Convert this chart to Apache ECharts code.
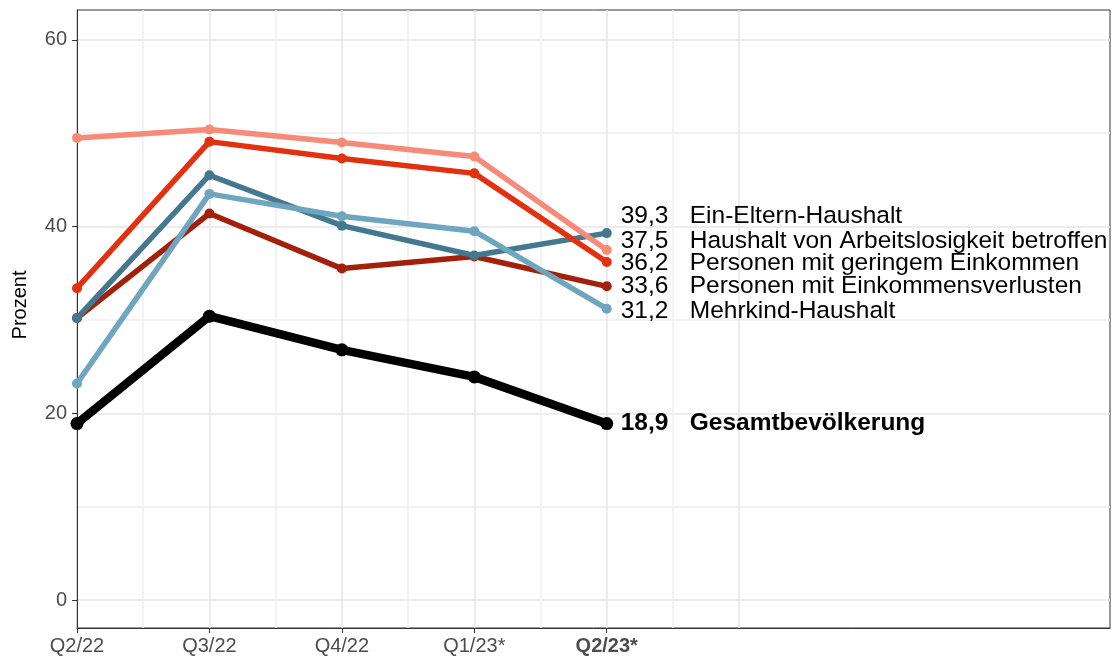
<!DOCTYPE html>
<html>
<head>
<meta charset="utf-8">
<script src="https://cdn.jsdelivr.net/npm/echarts@6/dist/echarts.min.js"></script>
</head>
<body style="margin:0;background:#fff;">
<div id="chart" style="width:1113px;height:657px;"></div>
<script>
var quarters = ["Q2/22", "Q3/22", "Q4/22", "Q1/23*", "Q2/23*"];
var einEltern = [30.2, 45.5, 40.1, 36.9, 39.3];
var arbeitslos = [49.5, 50.4, 49.0, 47.5, 37.5];
var geringEink = [33.4, 49.1, 47.3, 45.7, 36.2];
var einkVerlust = [30.2, 41.4, 35.5, 36.8, 33.6];
var mehrkind = [23.2, 43.5, 41.1, 39.5, 31.2];
var gesamt = [18.9, 30.4, 26.8, 23.9, 18.9];
var yTicks = [0, 20, 40, 60];
var xTicks = [0, 1, 2, 3, 4];

var font = "'Liberation Sans', Arial, sans-serif";

// drawing order: last one on top
var groups = [
  { name: "Personen mit Einkommensverlusten", data: einkVerlust, color: "#a3200b", dy: 0 },
  { name: "Ein-Eltern-Haushalt", data: einEltern, color: "#44788f", dy: -17 },
  { name: "Haushalt von Arbeitslosigkeit betroffen", data: arbeitslos, color: "#f58b78", dy: -9 },
  { name: "Personen mit geringem Einkommen", data: geringEink, color: "#e3300e", dy: 1 },
  { name: "Mehrkind-Haushalt", data: mehrkind, color: "#6fa6bf", dy: 3 },
  { name: "Gesamtbevölkerung", data: gesamt, color: "#000000", dy: 0, bold: true }
];

function fmt(v) {
  return v.toFixed(1).replace(".", ",");
}

var series = groups.map(function (g) {
  return {
    name: g.name,
    type: "line",
    xAxisIndex: 1,
    yAxisIndex: 1,
    data: g.data.map(function (v, i) { return [i, v]; }),
    symbol: "circle",
    symbolSize: g.bold ? 13 : 10,
    lineStyle: { color: g.color, width: g.bold ? 8.5 : 5.5 },
    itemStyle: { color: g.color },
    emphasis: { disabled: true },
    endLabel: {
      show: true,
      distance: 14,
      offset: [0, g.dy],
      formatter: function (p) {
        return "{v|" + fmt(p.value[1]) + "}{n|" + g.name + "}";
      },
      rich: {
        v: { width: 69, fontSize: 24.5, fontFamily: font, color: "#000", fontWeight: g.bold ? "bold" : "normal" },
        n: { fontSize: 24.5, fontFamily: font, color: "#000", fontWeight: g.bold ? "bold" : "normal" }
      }
    }
  };
});

var major = "#e6e6e6";
var minor = "#efefef";

// vertical grid: major on whole quarters, minor between, nothing past x = 5
var vGrid = [];
for (var k = 0; k < 17; k++) {
  if (k > 10) vGrid.push("rgba(0,0,0,0)");
  else vGrid.push(k % 2 === 0 ? major : minor);
}
// horizontal grid: edge, 0, 10, 20 ... 60, edge
var hGrid = ["rgba(0,0,0,0)", major, minor, major, minor, major, minor, major, "rgba(0,0,0,0)"];

var chart = echarts.init(document.getElementById("chart"));
chart.setOption({
  animation: false,
  grid: {
    left: 77,
    right: 3,
    top: 10,
    bottom: 29,
    show: true,
    borderColor: "#333",
    borderWidth: 1
  },
  xAxis: [
    {
      // grid lines only
      type: "value",
      position: "bottom",
      min: 0,
      max: 7.8,
      interval: 0.5,
      axisLine: { show: false },
      axisTick: { show: false },
      axisLabel: { show: false },
      splitLine: { show: true, lineStyle: { color: vGrid, width: 1.5 } }
    },
    {
      type: "value",
      position: "bottom",
      min: 0,
      max: 7.8,
      axisLine: { onZero: false, lineStyle: { color: "#333" } },
      axisTick: {
        customValues: xTicks,
        length: 5,
        lineStyle: { color: "#333" }
      },
      axisLabel: {
        customValues: xTicks,
        margin: 8,
        fontSize: 20,
        fontFamily: font,
        color: "#4d4d4d",
        formatter: function (v) {
          var q = quarters[Math.round(v)];
          return v === 4 ? "{b|" + q + "}" : q;
        },
        rich: {
          b: { fontSize: 20, fontFamily: font, fontWeight: "bold", color: "#4d4d4d" }
        }
      },
      splitLine: { show: false }
    }
  ],
  yAxis: [
    {
      // grid lines only
      type: "value",
      position: "left",
      min: -3,
      max: 63.2,
      splitNumber: 6,
      axisLine: { show: false },
      axisTick: { show: false },
      axisLabel: { show: false },
      splitLine: { show: true, lineStyle: { color: hGrid, width: 1.5 } }
    },
    {
      type: "value",
      position: "left",
      min: -3,
      max: 63.2,
      name: "Prozent",
      nameLocation: "middle",
      nameGap: 47,
      nameTextStyle: { fontSize: 20, fontFamily: font, color: "#000", padding: [0, 0, 0, 28] },
      axisLine: { show: true, onZero: false, lineStyle: { color: "#333" } },
      axisTick: {
        show: true,
        customValues: yTicks,
        length: 5,
        lineStyle: { color: "#333" }
      },
      axisLabel: {
        customValues: yTicks,
        margin: 10,
        fontSize: 20,
        fontFamily: font,
        color: "#4d4d4d"
      },
      splitLine: { show: false }
    }
  ],
  series: series
});
</script>
</body>
</html>
